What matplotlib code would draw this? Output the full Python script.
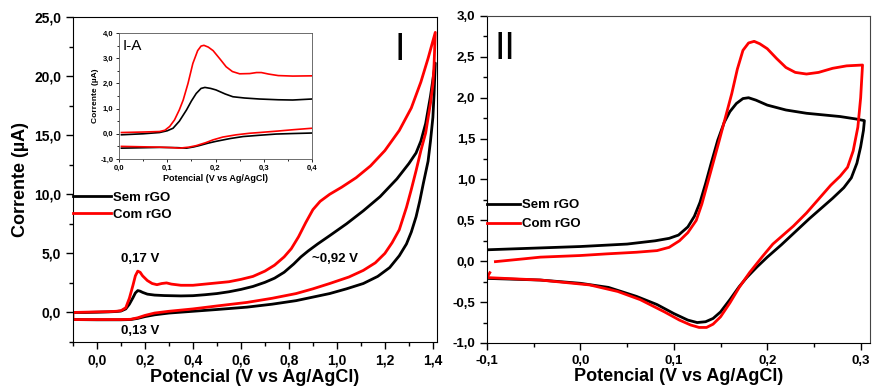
import numpy as np
import matplotlib
matplotlib.use('Agg')
import matplotlib.pyplot as plt
from matplotlib.ticker import MultipleLocator, FuncFormatter

plt.rcParams['font.family'] = ['Liberation Sans', 'DejaVu Sans']

# Painel I - voltametria ampla (V vs Ag/AgCl, uA)
sem_v = [-0.10, -0.05, 0.00, 0.05, 0.08, 0.10, 0.12, 0.135, 0.15, 0.16, 0.17, 0.18, 0.19, 0.21,
         0.24, 0.28, 0.35, 0.40, 0.45, 0.50, 0.55, 0.60, 0.65, 0.70, 0.74, 0.78, 0.82, 0.85,
         0.88, 0.92, 0.97, 1.04, 1.11, 1.18, 1.25, 1.30, 1.33, 1.35, 1.37, 1.39, 1.41,
         1.405, 1.40, 1.39, 1.38, 1.36, 1.345, 1.33, 1.31, 1.29, 1.26, 1.22, 1.17, 1.11, 1.04,
         0.97, 0.90, 0.83, 0.73, 0.625, 0.50, 0.40, 0.30, 0.24, 0.20, 0.17, 0.14, 0.10, 0.00,
         -0.10]
sem_i = [0.0, 0.0, 0.02, 0.05, 0.08, 0.12, 0.3, 0.7, 1.25, 1.65, 1.85, 1.8, 1.7, 1.55,
         1.47, 1.43, 1.4, 1.42, 1.5, 1.6, 1.75, 1.95, 2.2, 2.55, 2.9, 3.4, 4.1, 4.7,
         5.2, 5.8, 6.5, 7.5, 8.6, 9.8, 11.3, 12.6, 13.5, 14.5, 16.0, 18.3, 21.1,
         18.5, 16.5, 14.5, 12.8, 10.9, 9.4, 8.1, 6.8, 5.8, 4.8, 3.8, 3.05, 2.45, 2.0,
         1.6, 1.3, 1.0, 0.7, 0.45, 0.25, 0.1, -0.05, -0.2, -0.35, -0.5, -0.6, -0.62, -0.62,
         -0.6]
com_v = [-0.10, 0.00, 0.05, 0.08, 0.10, 0.12, 0.135, 0.15, 0.16, 0.17, 0.18, 0.19, 0.21, 0.23,
         0.25, 0.27, 0.29, 0.31, 0.35, 0.40, 0.45, 0.50, 0.55, 0.60, 0.65, 0.70, 0.74, 0.78,
         0.81, 0.84, 0.87, 0.90, 0.93, 0.97, 1.02, 1.08, 1.14, 1.20, 1.26, 1.31, 1.35, 1.38,
         1.41,
         1.405, 1.40, 1.39, 1.37, 1.35, 1.33, 1.31, 1.29, 1.26, 1.23, 1.20, 1.16, 1.11, 1.05,
         0.97, 0.90, 0.83, 0.73, 0.625, 0.50, 0.40, 0.30, 0.24, 0.20, 0.17, 0.14, 0.10, 0.00,
         -0.10, -0.10]
com_i = [0.0, 0.05, 0.07, 0.1, 0.15, 0.4, 1.2, 2.3, 3.1, 3.5, 3.4, 3.1, 2.7, 2.45,
         2.35, 2.45, 2.5, 2.4, 2.3, 2.3, 2.4, 2.5, 2.6, 2.8, 3.05, 3.5, 4.0, 4.7,
         5.4, 6.4, 7.6, 8.7, 9.4, 10.0, 10.6, 11.4, 12.4, 13.7, 15.4, 17.3, 19.5, 21.5,
         23.7,
         21.0, 19.3, 17.7, 15.2, 13.7, 12.0, 10.4, 8.9, 7.0, 5.9, 5.0, 4.2, 3.56, 3.0,
         2.45, 2.0, 1.6, 1.2, 0.85, 0.55, 0.3, 0.1, -0.05, -0.25, -0.45, -0.58, -0.6, -0.6,
         -0.6, 0.0]

# Inset I-A (0 a 0,4 V)
ins_sem_v = [0.005, 0.05, 0.084, 0.10, 0.112, 0.125, 0.14, 0.15, 0.16, 0.17, 0.178, 0.19,
             0.201, 0.22, 0.236, 0.26, 0.291, 0.33, 0.36, 0.40]
ins_sem_i = [-0.04, 0.0, 0.05, 0.12, 0.22, 0.5, 0.95, 1.3, 1.6, 1.8, 1.84, 1.8,
             1.74, 1.58, 1.47, 1.42, 1.38, 1.35, 1.34, 1.38]
ins_sem_v2 = [0.005, 0.084, 0.12, 0.14, 0.155, 0.166, 0.185, 0.201, 0.23, 0.257, 0.29, 0.326,
              0.36, 0.40]
ins_sem_i2 = [-0.57, -0.54, -0.55, -0.57, -0.52, -0.47, -0.37, -0.30, -0.19, -0.11, -0.06,
              -0.01, 0.01, 0.03]
ins_com_v = [0.005, 0.05, 0.084, 0.095, 0.105, 0.115, 0.125, 0.133, 0.143, 0.153, 0.163, 0.17,
             0.176, 0.185, 0.195, 0.21, 0.222, 0.235, 0.25, 0.271, 0.285, 0.295, 0.31, 0.33,
             0.36, 0.40]
ins_com_i = [0.05, 0.07, 0.09, 0.14, 0.29, 0.55, 0.95, 1.34, 2.0, 2.79, 3.3, 3.48,
             3.51, 3.44, 3.3, 2.95, 2.66, 2.47, 2.38, 2.39, 2.43, 2.43, 2.37, 2.31,
             2.29, 2.30]
ins_com_v2 = [0.005, 0.084, 0.11, 0.125, 0.145, 0.16, 0.18, 0.195, 0.215, 0.243, 0.27, 0.291,
              0.33, 0.36, 0.40]
ins_com_i2 = [-0.5, -0.53, -0.55, -0.57, -0.53, -0.47, -0.35, -0.24, -0.13, -0.04, 0.02, 0.05,
              0.11, 0.16, 0.22]

# Painel II
sem2_v = [-0.10, -0.05, 0.00, 0.05, 0.08, 0.095, 0.105, 0.115, 0.122, 0.128, 0.134, 0.14,
          0.147, 0.154, 0.16, 0.167, 0.174, 0.18, 0.188, 0.20, 0.22, 0.242, 0.26, 0.278,
          0.295, 0.304,
          0.303, 0.300, 0.296, 0.290, 0.282, 0.27, 0.26, 0.245, 0.23, 0.215, 0.20, 0.189,
          0.178, 0.17, 0.16, 0.15, 0.142, 0.134, 0.125, 0.115, 0.10, 0.082, 0.06, 0.03,
          0.00, -0.043, -0.10]
sem2_i = [0.14, 0.16, 0.18, 0.21, 0.25, 0.28, 0.32, 0.42, 0.55, 0.72, 0.95, 1.2,
          1.48, 1.7, 1.83, 1.93, 1.99, 2.0, 1.97, 1.91, 1.85, 1.81, 1.79, 1.77,
          1.74, 1.72,
          1.6, 1.4, 1.2, 1.02, 0.9, 0.77, 0.67, 0.52, 0.36, 0.2, 0.05, -0.07,
          -0.2, -0.31, -0.47, -0.62, -0.7, -0.74, -0.75, -0.72, -0.64, -0.53, -0.43, -0.32,
          -0.27, -0.23, -0.21]
com2_v = [-0.091, -0.06, -0.043, 0.00, 0.028, 0.06, 0.082, 0.095, 0.106, 0.115, 0.124, 0.13,
          0.136, 0.142, 0.148, 0.155, 0.162, 0.168, 0.174, 0.18, 0.186, 0.192, 0.20, 0.21,
          0.22, 0.23, 0.242, 0.255, 0.27, 0.285, 0.302,
          0.300, 0.297, 0.292, 0.286, 0.278, 0.268, 0.255, 0.242, 0.228, 0.215, 0.206, 0.195,
          0.181, 0.17, 0.16, 0.15, 0.142, 0.135, 0.127, 0.118, 0.106, 0.09, 0.064, 0.04,
          0.01, -0.043, -0.10, -0.097]
com2_i = [-0.005, 0.03, 0.05, 0.07, 0.09, 0.11, 0.13, 0.17, 0.25, 0.35, 0.5, 0.7,
          0.95, 1.2, 1.45, 1.75, 2.05, 2.35, 2.58, 2.67, 2.69, 2.66, 2.6, 2.48,
          2.37, 2.31, 2.29, 2.31, 2.36, 2.39, 2.40,
          2.0, 1.64, 1.35, 1.15, 1.04, 0.93, 0.76, 0.59, 0.43, 0.3, 0.21, 0.06,
          -0.14, -0.32, -0.51, -0.68, -0.77, -0.81, -0.81, -0.78, -0.72, -0.62, -0.47, -0.37,
          -0.29, -0.23, -0.2, -0.14]


def virgula(v, pos):
    return '{:.1f}'.format(round(v, 6) + 0.0).replace('.', ',')


fmt = FuncFormatter(virgula)
bold = dict(fontweight='bold')

fig = plt.figure(figsize=(8.72, 3.89), dpi=100)

# ---- Painel I
ax1 = fig.add_axes([0.0837, 0.1208, 0.4174, 0.8355])
ax1.plot(sem_v, sem_i, color='black', linewidth=2.0, label='Sem rGO')
ax1.plot(com_v, com_i, color='red', linewidth=2.0, label='Com rGO')
ax1.set_xlim(-0.1, 1.417)
ax1.set_ylim(-2.5, 25)
ax1.xaxis.set_major_locator(MultipleLocator(0.2))
ax1.xaxis.set_minor_locator(MultipleLocator(0.1))
ax1.yaxis.set_major_locator(MultipleLocator(5))
ax1.yaxis.set_minor_locator(MultipleLocator(2.5))
ax1.xaxis.set_major_formatter(fmt)
ax1.yaxis.set_major_formatter(fmt)
ax1.tick_params(which='both', direction='out', top=False, right=False, labelsize=10, width=1)
ax1.tick_params(which='major', length=5)
ax1.tick_params(which='minor', length=3)
for lab in ax1.get_xticklabels() + ax1.get_yticklabels():
    lab.set_fontweight('bold')
ax1.set_xlabel('Potencial (V vs Ag/AgCl)', fontsize=13, labelpad=1, **bold)
ax1.set_ylabel('Corrente (µA)', fontsize=13, labelpad=4, **bold)
ax1.legend(loc='upper left', bbox_to_anchor=(0.0, 0.462), frameon=False, borderpad=0,
           borderaxespad=0, handlelength=2.9, handletextpad=0.15, labelspacing=0.35,
           prop=dict(size=9.5, weight='bold'))
ax1.text(0.18, 4.5, '0,17 V', ha='center', va='center', fontsize=9.5, **bold)
ax1.text(0.99, 4.5, '~0,92 V', ha='center', va='center', fontsize=9.5, **bold)
ax1.text(0.18, -1.6, '0,13 V', ha='center', va='center', fontsize=9.5, **bold)
ax1.text(0.898, 0.90, 'I', transform=ax1.transAxes, ha='center', va='center', fontsize=27)

# ---- Inset I-A
ins = fig.add_axes([0.1365, 0.5913, 0.2213, 0.3239])
ins.plot(ins_sem_v, ins_sem_i, color='black', linewidth=1.2)
ins.plot(ins_sem_v2, ins_sem_i2, color='black', linewidth=1.2)
ins.plot(ins_com_v, ins_com_i, color='red', linewidth=1.2)
ins.plot(ins_com_v2, ins_com_i2, color='red', linewidth=1.2)
ins.set_xlim(0, 0.4)
ins.set_ylim(-1, 4)
ins.xaxis.set_major_locator(MultipleLocator(0.1))
ins.xaxis.set_minor_locator(MultipleLocator(0.05))
ins.yaxis.set_major_locator(MultipleLocator(1))
ins.yaxis.set_minor_locator(MultipleLocator(0.5))
ins.xaxis.set_major_formatter(fmt)
ins.yaxis.set_major_formatter(fmt)
ins.tick_params(which='both', direction='out', labelsize=5.5, width=0.6, pad=1.5)
ins.tick_params(which='major', length=2.5)
ins.tick_params(which='minor', length=1.5)
for lab in ins.get_xticklabels() + ins.get_yticklabels():
    lab.set_fontweight('bold')
for s in ins.spines.values():
    s.set_linewidth(0.6)
    s.set_color('#555555')
ins.set_xlabel('Potencial (V vs Ag/AgCl)', fontsize=6.5, labelpad=1.5, **bold)
ins.set_ylabel('Corrente (µA)', fontsize=6, labelpad=1, **bold)
ins.text(0.02, 0.897, 'I-A', transform=ins.transAxes, ha='left', va='center', fontsize=11)

# ---- Painel II
ax2 = fig.add_axes([0.5585, 0.1183, 0.4392, 0.8406])
ax2.plot(sem2_v, sem2_i, color='black', linewidth=2.0, label='Sem rGO')
ax2.plot(com2_v, com2_i, color='red', linewidth=2.0, label='Com rGO')
ax2.set_xlim(-0.1, 0.31)
ax2.set_ylim(-1.0, 3.0)
ax2.xaxis.set_major_locator(MultipleLocator(0.1))
ax2.xaxis.set_minor_locator(MultipleLocator(0.05))
ax2.yaxis.set_major_locator(MultipleLocator(0.5))
ax2.yaxis.set_minor_locator(MultipleLocator(0.25))
ax2.xaxis.set_major_formatter(fmt)
ax2.yaxis.set_major_formatter(fmt)
ax2.tick_params(which='both', direction='out', top=False, right=False, labelsize=9.5, width=1)
ax2.tick_params(which='major', length=5)
ax2.tick_params(which='minor', length=3)
for lab in ax2.get_xticklabels() + ax2.get_yticklabels():
    lab.set_fontweight('bold')
for s in ('top', 'right'):
    ax2.spines[s].set_color('#444444')
    ax2.spines[s].set_linewidth(0.8)
ax2.set_xlabel('Potencial (V vs Ag/AgCl)', fontsize=13, labelpad=1, **bold)
ax2.legend(loc='upper left', bbox_to_anchor=(0.0, 0.44), frameon=False, borderpad=0,
           borderaxespad=0, handlelength=2.5, handletextpad=0.15, labelspacing=0.5,
           prop=dict(size=9.5, weight='bold'))
ax2.text(0.047, 0.90, 'II', transform=ax2.transAxes, ha='center', va='center', fontsize=27)

fig.savefig('out.png', dpi=100)
